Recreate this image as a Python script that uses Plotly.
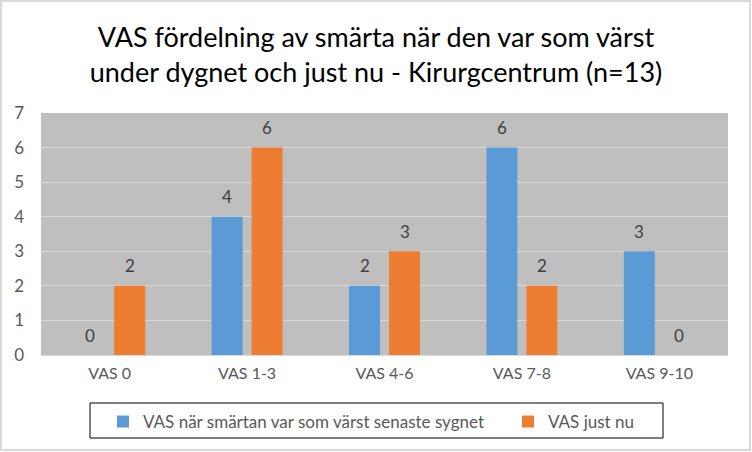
import plotly.graph_objects as go

# data
categories = ['VAS 0', 'VAS 1-3', 'VAS 4-6', 'VAS 7-8', 'VAS 9-10']
worst_24h = [0, 4, 2, 6, 3]
just_now = [2, 6, 3, 2, 0]
series_names = ['VAS när smärtan var som värst senaste sygnet', 'VAS just nu']

BLUE = '#5B9BD5'
ORANGE = '#ED7D31'
FONT = 'Lato'
TXT = '#595959'

# plot area in pixels (used for shapes placed in the margins)
L, R, T, B = 41, 24, 113, 97
PW, PH = 752 - L - R, 452 - T - B


def px_x(x):
    return (x - L) / PW


def px_y(y):
    return (452 - B - y) / PH


fig = go.Figure()
fig.add_trace(go.Bar(
    x=categories, y=worst_24h, name=series_names[0],
    marker=dict(color=BLUE, line=dict(width=0)),
    legendwidth=360,
))
fig.add_trace(go.Bar(
    x=categories, y=just_now, name=series_names[1],
    marker=dict(color=ORANGE, line=dict(width=0)),
))

# data labels, lifted a bit more than plotly's own 'outside' text
for vals, shift in [(worst_24h, -20), (just_now, 20)]:
    for cat, v in zip(categories, vals):
        fig.add_annotation(x=cat, y=v, text=str(v), showarrow=False,
                           xshift=shift, yshift=20, yanchor='middle',
                           font=dict(size=17, color='#404040', family=FONT))

fig.update_layout(
    width=752, height=452,
    margin=dict(l=L, r=R, t=T, b=B),
    paper_bgcolor='white',
    plot_bgcolor='#BFBFBF',
    font=dict(family=FONT, color=TXT, size=16),
    title=dict(
        text='VAS fördelning av smärta när den var som värst<br>'
             'under dygnet och just nu - Kirurgcentrum (n=13)',
        x=0.5, xanchor='center', y=1 - 47 / 452, yanchor='middle',
        font=dict(size=27, color='#000000', family=FONT),
    ),
    barmode='group',
    bargap=0.418,
    bargroupgap=0.225,
    showlegend=True,
    legend=dict(
        orientation='h', x=px_x(103), xanchor='left',
        y=px_y(404), yanchor='top',
        font=dict(size=17, color=TXT, family=FONT),
        bgcolor='rgba(0,0,0,0)', borderwidth=0,
    ),
    shapes=[
        # outer frame
        dict(type='rect', xref='paper', yref='paper',
             x0=px_x(1), x1=px_x(750), y0=px_y(450), y1=px_y(1),
             line=dict(color='#D9D9D9', width=2)),
        # legend box
        dict(type='rect', xref='paper', yref='paper',
             x0=px_x(90), x1=px_x(663), y0=px_y(438), y1=px_y(403),
             line=dict(color='#000000', width=1)),
    ],
)
fig.update_xaxes(showgrid=False, showline=False, ticks='',
                 ticklabelstandoff=7, tickfont=dict(size=16, color=TXT))
fig.update_yaxes(range=[0, 7], dtick=1, showgrid=True, gridcolor='#D9D9D9',
                 gridwidth=1, zeroline=True, zerolinecolor='#D9D9D9',
                 zerolinewidth=1, showline=False, ticks='',
                 ticklabelstandoff=16, tickfont=dict(size=17, color=TXT))

fig.write_html('out.html', config={'displayModeBar': False},
               post_script="document.body.style.margin='0';")
